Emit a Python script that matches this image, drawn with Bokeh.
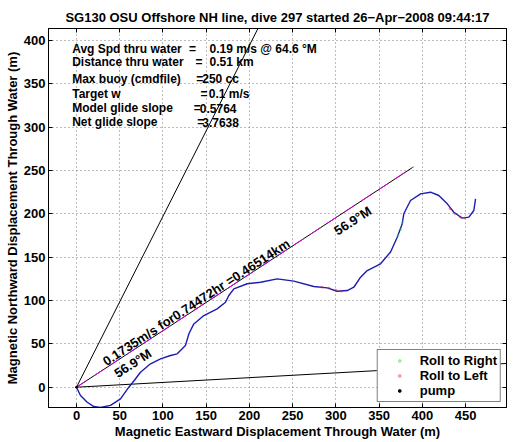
import math
from bokeh.plotting import figure
from bokeh.models import Range1d, LinearAxis, Legend, LegendItem
from bokeh.core.properties import value
from bokeh.embed import file_html
from bokeh.resources import INLINE

# ---------------- data ----------------
track_east = [0, 4.6, 12.4, 20, 27.8, 39.3, 50.9, 60.5, 67, 74, 85.6, 97.2, 108.7, 116.5, 122,
              126, 130, 135.7, 147.3, 162.7, 172.4, 176.2, 182, 197.5, 212.9, 232.2, 251.4,
              274.5, 290, 301.6, 313.2, 320.8, 328.6, 336.3, 351.7, 363.3, 371, 376.8, 378.6,
              386.4, 398, 409.5, 419.1, 428.9, 436.5, 446.2, 453.9, 459.6, 461.6]
track_north = [0, -9.6, -17.3, -22.3, -23.4, -21, -13.4, 0, 8, 17.3, 27, 32.7, 36.6, 38.5, 44,
               48, 61.6, 73, 82.7, 90.4, 98, 105.8, 113.5, 119.3, 121.1, 125, 122.3,
               116.1, 114.6, 110.7, 111.5, 115.3, 126.9, 134.6, 142.3, 156, 173, 188.5, 200,
               215.3, 223, 224.9, 221.1, 211.5, 201.8, 195, 196.1, 203.8, 217.3]

roll_left_east = [284, 292, 300, 306, 432, 438, 444, 449]
roll_left_north = [115.2, 114.4, 112, 110.8, 206, 200, 196, 195.2]
roll_right_east = [372, 375, 377]
roll_right_north = [175, 182, 190]
pump_east = [0]
pump_north = [0]

net_heading_deg = 56.9
net_dist_km = 0.46514
net_speed = 0.1735
net_hours = 0.74472
aux_headings_deg = [26.9, 86.85]
aux_length_m = 520

info_labels = ["Avg Spd thru water", "Distance thru water", "Max buoy (cmdfile)",
               "Target w", "Model glide slope", "Net glide slope"]
info_values = ["0.19 m/s @  64.6 \u00b0M", "0.51 km", "250 cc", "0.1 m/s", "0.5764", "3.7638"]

x_ticks = [0, 50, 100, 150, 200, 250, 300, 350, 400, 450]
y_ticks = [0, 50, 100, 150, 200, 250, 300, 350, 400]

title = "SG130 OSU Offshore NH line, dive 297 started 26\u2212Apr\u22122008 09:44:17"

# ---------------- figure ----------------
FONT = "Liberation Sans"
FS = "13px"
p = figure(width=514, height=442, x_range=Range1d(-32.4, 497.4), y_range=Range1d(-23.4, 413.7),
           output_backend="svg", toolbar_location=None,
           min_border_left=48, min_border_right=8, min_border_top=28, min_border_bottom=35)
p.title.text = title
p.title.align = "center"
p.title.offset = 19
p.title.text_font = FONT
p.title.text_font_size = FS
p.title.text_font_style = "bold"
p.title.text_color = "black"
p.title.standoff = 7

p.outline_line_color = "black"
p.background_fill_color = "white"
p.border_fill_color = "white"

for ax in [p.xaxis[0], p.yaxis[0]]:
    ax.major_tick_in = 4
    ax.major_tick_out = 0
    ax.minor_tick_line_color = None
    ax.axis_line_color = "black"
    ax.major_tick_line_color = "black"
    ax.major_label_text_font = FONT
    ax.major_label_text_font_size = FS
    ax.major_label_text_font_style = "bold"
    ax.major_label_text_color = "black"
    ax.axis_label_text_font = FONT
    ax.axis_label_text_font_size = FS
    ax.axis_label_text_font_style = "bold"
    ax.axis_label_text_color = "black"
p.xaxis[0].major_label_standoff = 3
p.xaxis[0].axis_label_standoff = 1
p.yaxis[0].major_label_standoff = 3
p.yaxis[0].axis_label_standoff = 1
p.xaxis[0].ticker = x_ticks
p.yaxis[0].ticker = y_ticks
p.xaxis[0].axis_label = "Magnetic Eastward Displacement Through Water (m)"
p.yaxis[0].axis_label = "Magnetic Northward Displacement Through Water (m)"

for loc, ticks in [("above", x_ticks), ("right", y_ticks)]:
    ax = LinearAxis(ticker=ticks, major_tick_in=4, major_tick_out=0, minor_tick_line_color=None,
                    major_label_text_font_size="0px", major_label_standoff=0,
                    axis_line_color="black", major_tick_line_color="black")
    p.add_layout(ax, loc)

p.grid.grid_line_color = "#7a7a7a"
p.grid.grid_line_dash = "1 3"
p.grid.grid_line_width = 1
p.xgrid.ticker = x_ticks
p.ygrid.ticker = y_ticks

# auxiliary heading lines
for h in aux_headings_deg:
    hr = math.radians(h)
    p.line([0, aux_length_m * math.sin(hr)], [0, aux_length_m * math.cos(hr)],
           line_color="black", line_width=1)

# net displacement line
hr = math.radians(net_heading_deg)
d_m = net_dist_km * 1000
ue, un = math.sin(hr), math.cos(hr)
end_e, end_n = d_m * ue, d_m * un
p.line([0, end_e], [0, end_n], line_color="black", line_width=1)
p.line([0, end_e], [0, end_n], line_color="#e000e0", line_width=1, line_dash="12 8")

# track
p.line(track_east, track_north, line_color="#1c1cb4", line_width=1.4)
r_right = p.scatter(roll_right_east, roll_right_north, size=2, color="#22dd22", alpha=0.35)
r_left = p.scatter(roll_left_east, roll_left_north, size=2, color="#ee2222", alpha=0.35)
r_pump = p.scatter(pump_east, pump_north, size=2, color="black")

# labels along the net line
ang = math.radians(90 - net_heading_deg)
pe, pn = -un, ue
def along(s, off):
    return [s * ue + off * pe], [s * un + off * pn]

txt = dict(text_font=value(FONT), text_font_size=value(FS), text_font_style="bold",
           text_color="black")
lbl = "%gm/s for%ghr =%gkm" % (net_speed, net_hours, net_dist_km)
x, y = along(42.3, 6.6)
p.text(x, y, text=[lbl], angle=ang, text_align="left", text_baseline="alphabetic", **txt)
hlabel = "%.1f\u00b0M" % net_heading_deg
for s, off in [(45.8, -12.4), (348.6, -13.6)]:
    x, y = along(s, off)
    p.text(x, y, text=[hlabel], angle=ang, text_align="left", text_baseline="alphabetic", **txt)

# info block
info_txt = dict(text_font=value(FONT), text_font_size=value("12px"), text_font_style="bold",
                text_color="black", text_baseline="middle", text_align="left")
label_x = -5.0
eq_x = [130.0, 137.6, 138.5, 143.5, 135.7, 139.6]
val_x = [153.9, 153.9, 145.4, 153.0, 142.6, 145.4]
row_y = [389.8, 374.5, 355.2, 338.4, 321.8, 305.3]
p.text([label_x] * len(info_labels), row_y, text=info_labels, **info_txt)
p.text(eq_x, row_y, text=["="] * len(info_labels), **info_txt)
p.text(val_x, row_y, text=info_values, **info_txt)

legend = Legend(items=[LegendItem(label="Roll to Right", renderers=[r_right]),
                       LegendItem(label="Roll to Left", renderers=[r_left]),
                       LegendItem(label="pump", renderers=[r_pump])],
                location="bottom_right", margin=5, padding=3, spacing=0,
                glyph_width=37, glyph_height=7, label_height=14, label_standoff=2,
                border_line_color="black", border_line_width=1,
                background_fill_color="white", background_fill_alpha=1,
                label_text_font=FONT, label_text_font_size=FS,
                label_text_font_style="bold", label_text_color="black")
p.add_layout(legend)

open("out.html", "w").write(file_html(p, INLINE))
